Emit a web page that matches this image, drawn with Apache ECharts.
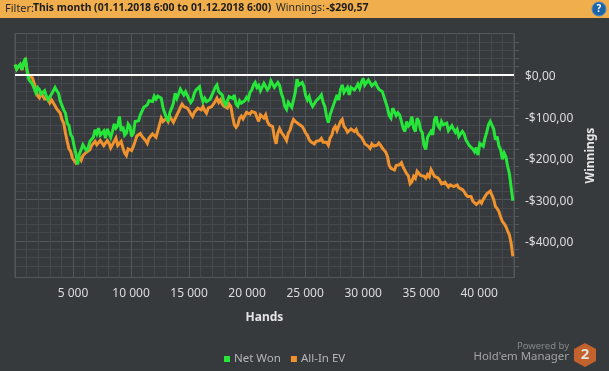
<!DOCTYPE html>
<html>
<head>
<meta charset="utf-8">
<style>
  html, body { margin: 0; padding: 0; background: #373a3d; }
  #chart { width: 609px; height: 371px; }
</style>
<script src="https://cdn.jsdelivr.net/npm/echarts@6/dist/echarts.min.js"></script>
</head>
<body>
<div id="chart"></div>
<script>
var hands = [
  0, 150, 300, 450, 600, 750, 900, 1050, 1200, 1350, 1500, 1650, 1800, 1950, 2100, 2250, 2400, 2550, 2700, 2850,
  3000, 3150, 3300, 3450, 3600, 3750, 3900, 4050, 4200, 4350, 4500, 4650, 4800, 4950, 5100, 5250, 5400, 5550, 5700, 5850,
  6000, 6150, 6300, 6450, 6600, 6750, 6900, 7050, 7200, 7350, 7500, 7650, 7800, 7950, 8100, 8250, 8400, 8550, 8700, 8850,
  9000, 9150, 9300, 9450, 9600, 9750, 9900, 10050, 10200, 10350, 10500, 10650, 10800, 10950, 11100, 11250, 11400, 11550, 11700, 11850,
  12000, 12150, 12300, 12450, 12600, 12750, 12900, 13050, 13200, 13350, 13500, 13650, 13800, 13950, 14100, 14250, 14400, 14550, 14700, 14850,
  15000, 15150, 15300, 15450, 15600, 15750, 15900, 16050, 16200, 16350, 16500, 16650, 16800, 16950, 17100, 17250, 17400, 17550, 17700, 17850,
  18000, 18150, 18300, 18450, 18600, 18750, 18900, 19050, 19200, 19350, 19500, 19650, 19800, 19950, 20100, 20250, 20400, 20550, 20700, 20850,
  21000, 21150, 21300, 21450, 21600, 21750, 21900, 22050, 22200, 22350, 22500, 22650, 22800, 22950, 23100, 23250, 23400, 23550, 23700, 23850,
  24000, 24150, 24300, 24450, 24600, 24750, 24900, 25050, 25200, 25350, 25500, 25650, 25800, 25950, 26100, 26250, 26400, 26550, 26700, 26850,
  27000, 27150, 27300, 27450, 27600, 27750, 27900, 28050, 28200, 28350, 28500, 28650, 28800, 28950, 29100, 29250, 29400, 29550, 29700, 29850,
  30000, 30150, 30300, 30450, 30600, 30750, 30900, 31050, 31200, 31350, 31500, 31650, 31800, 31950, 32100, 32250, 32400, 32550, 32700, 32850,
  33000, 33150, 33300, 33450, 33600, 33750, 33900, 34050, 34200, 34350, 34500, 34650, 34800, 34950, 35100, 35250, 35400, 35550, 35700, 35850,
  36000, 36150, 36300, 36450, 36600, 36750, 36900, 37050, 37200, 37350, 37500, 37650, 37800, 37950, 38100, 38250, 38400, 38550, 38700, 38850,
  39000, 39150, 39300, 39450, 39600, 39750, 39900, 40050, 40200, 40350, 40500, 40650, 40800, 40950, 41100, 41250, 41400, 41550, 41700, 41850,
  42000, 42150, 42300, 42450, 42600, 42750, 42900
];
var netWon = [
  25, 14, 21, 26, 13, 30, 41, 8, -11, -8, -22, -26, -43, -30, -35, -46, -43, -38, -51, -60,
  -59, -46, -43, -30, -38, -44, -63, -62, -84, -92, -116, -122, -144, -150, -172, -190, -216, -190, -180, -168,
  -170, -182, -176, -160, -156, -150, -132, -142, -128, -145, -148, -135, -152, -130, -132, -150, -136, -118, -128, -122,
  -100, -135, -124, -145, -140, -118, -124, -148, -140, -112, -110, -110, -96, -92, -78, -82, -72, -62, -60, -64,
  -51, -58, -51, -48, -56, -78, -92, -96, -112, -90, -80, -68, -44, -56, -46, -34, -35, -48, -40, -44,
  -59, -66, -60, -44, -36, -34, -28, -50, -64, -56, -64, -68, -59, -50, -48, -30, -24, -40, -44, -48,
  -64, -72, -68, -52, -48, -56, -48, -70, -75, -62, -68, -70, -62, -54, -59, -42, -36, -24, -18, -30,
  -25, -38, -36, -20, -22, -36, -30, -14, -10, -30, -27, -18, -25, -44, -56, -76, -83, -66, -64, -78,
  -80, -42, -10, -24, -28, -18, -28, -50, -60, -52, -68, -76, -78, -62, -60, -54, -48, -66, -76, -100,
  -115, -96, -92, -72, -60, -48, -60, -34, -24, -42, -36, -30, -48, -30, -27, -36, -30, -22, -32, -18,
  -8, -24, -28, -12, -14, -26, -22, -18, -27, -34, -30, -40, -44, -66, -80, -98, -104, -80, -84, -98,
  -91, -96, -112, -128, -136, -112, -123, -118, -100, -128, -136, -104, -112, -132, -139, -170, -179, -150, -152, -136,
  -144, -108, -100, -122, -128, -112, -120, -124, -116, -134, -131, -122, -131, -138, -131, -148, -152, -136, -142, -156,
  -152, -170, -168, -178, -185, -175, -193, -165, -168, -172, -152, -138, -120, -112, -108, -130, -156, -148, -171, -180,
  -203, -188, -197, -220, -237, -270, -303
];
var allInEv = [
  25, 14, 20, 25, 12, 28, 35, 8, -3, -2, -7, -20, -35, -50, -55, -44, -47, -58, -62, -58,
  -67, -60, -63, -74, -82, -84, -92, -108, -116, -140, -160, -178, -184, -200, -204, -212, -210, -200, -206, -194,
  -196, -186, -184, -180, -170, -168, -160, -168, -164, -158, -164, -170, -168, -158, -164, -176, -180, -160, -152, -170,
  -165, -160, -176, -188, -194, -178, -180, -182, -172, -160, -147, -150, -141, -148, -145, -158, -165, -152, -153, -142,
  -138, -150, -153, -120, -104, -112, -108, -104, -112, -100, -103, -114, -115, -96, -88, -78, -70, -76, -72, -80,
  -86, -94, -100, -90, -92, -80, -83, -84, -76, -86, -92, -80, -84, -76, -80, -64, -56, -66, -60, -70,
  -75, -74, -80, -70, -76, -100, -120, -126, -120, -104, -99, -106, -102, -90, -91, -94, -88, -84, -91, -102,
  -112, -96, -100, -104, -96, -112, -120, -118, -124, -150, -166, -140, -129, -138, -134, -150, -158, -140, -133, -118,
  -107, -112, -108, -118, -120, -124, -131, -140, -145, -156, -161, -158, -166, -160, -158, -158, -153, -162, -165, -162,
  -169, -152, -145, -130, -124, -134, -134, -112, -107, -124, -129, -138, -142, -130, -133, -136, -131, -142, -139, -150,
  -157, -166, -169, -172, -177, -166, -171, -174, -169, -164, -169, -176, -181, -186, -197, -218, -225, -224, -229, -218,
  -214, -216, -211, -222, -225, -238, -243, -262, -257, -244, -249, -232, -230, -242, -241, -244, -249, -240, -245, -228,
  -229, -244, -246, -248, -254, -262, -265, -258, -261, -270, -265, -262, -269, -266, -265, -272, -269, -276, -281, -288,
  -293, -290, -293, -304, -301, -312, -309, -304, -309, -300, -297, -286, -283, -280, -281, -300, -317, -322, -329, -342,
  -353, -358, -365, -376, -385, -405, -437
];
var winningsTicks = [100, 0, -100, -200, -300, -400];
var winningsLabels = [0, -100, -200, -300, -400];
var winningsMinorTicks = [
  80, 60, 40, 20, -20, -40, -60, -80, -120, -140, -160, -180, -220, -240, -260, -280,
  -320, -340, -360, -380, -420, -440, -460
];

function money(v) {
  return (v < 0 ? '-' : '') + '$' + Math.abs(v) + ',00';
}

var uiFont = '"Noto Sans", sans-serif';
var chart = echarts.init(document.getElementById('chart'));
chart.setOption({
  animation: false,
  backgroundColor: '#373a3d',
  grid: {
    show: true,
    left: 15,
    right: 95,
    top: 33.5,
    bottom: 93.5,
    borderColor: '#53565a',
    borderWidth: 1
  },
  legend: {
    data: ['Net Won', 'All-In EV'],
    left: 219,
    top: 348,
    itemWidth: 6,
    itemHeight: 6,
    itemGap: 10,
    icon: 'rect',
    textStyle: { color: '#b4b6b8', fontFamily: uiFont, fontSize: 11.5, padding: [0, 0, 0, -1] }
  },
  xAxis: {
    type: 'value',
    name: 'Hands',
    nameLocation: 'middle',
    nameGap: 34,
    nameTextStyle: { color: '#e4e4e4', fontFamily: uiFont, fontSize: 12, fontWeight: 'bold' },
    min: 0,
    max: 43000,
    interval: 5000,
    axisLine: { show: false },
    axisTick: { show: true, length: 5, lineStyle: { color: '#53565a' } },
    minorTick: { show: true, splitNumber: 5, length: 5, lineStyle: { color: '#53565a' } },
    splitLine: { show: true, lineStyle: { color: '#53565a', width: 1 } },
    minorSplitLine: { show: true, lineStyle: { color: '#45484c', width: 1 } },
    axisLabel: {
      color: '#dcdcdc',
      fontFamily: uiFont,
      fontSize: 12,
      margin: 10,
      showMinLabel: false,
      showMaxLabel: false,
      formatter: function (v) {
        return String(v).replace(/\B(?=(\d{3})+$)/g, ' ');
      }
    }
  },
  yAxis: [
    {
      type: 'value',
      position: 'right',
      name: 'Winnings',
      nameLocation: 'middle',
      nameRotate: 90,
      nameGap: 62,
      nameTextStyle: { color: '#e4e4e4', fontFamily: uiFont, fontSize: 12, fontWeight: 'bold' },
      min: -488,
      max: 100,
      axisLine: { show: false },
      axisTick: { show: true, length: 5, customValues: winningsTicks, lineStyle: { color: '#53565a' } },
      splitLine: { show: true, lineStyle: { color: '#53565a', width: 1 } },
      axisLabel: {
        color: '#dcdcdc',
        fontFamily: uiFont,
        fontSize: 12,
        margin: 11,
        verticalAlign: 'top',
        lineHeight: 4,
        customValues: winningsLabels,
        formatter: money
      }
    },
    {
      type: 'value',
      position: 'right',
      min: -488,
      max: 100,
      axisLine: { show: false },
      axisTick: { show: true, length: 5, customValues: winningsMinorTicks, lineStyle: { color: '#53565a' } },
      splitLine: { show: true, lineStyle: { color: '#45484c', width: 1 } },
      axisLabel: { show: false }
    }
  ],
  series: [
    {
      name: 'All-In EV',
      type: 'line',
      z: 3,
      showSymbol: false,
      color: '#f0922e',
      lineStyle: { width: 3, color: '#f0922e', join: 'miter', miterLimit: 3 },
      data: hands.map(function (h, i) { return [h, allInEv[i]]; })
    },
    {
      name: 'Net Won',
      type: 'line',
      z: 4,
      showSymbol: false,
      color: '#27e63a',
      lineStyle: { width: 3, color: '#27e63a', join: 'miter', miterLimit: 3 },
      data: hands.map(function (h, i) { return [h, netWon[i]]; }),
      markLine: {
        silent: true,
        symbol: 'none',
        label: { show: false },
        lineStyle: { color: '#ffffff', width: 2, type: 'solid' },
        data: [{ yAxis: 0 }]
      }
    }
  ],
  graphic: [
    { type: 'rect', left: 0, top: 0, z: 10, shape: { width: 609, height: 18 }, style: { fill: '#f0ae4c' } },
    { type: 'text', left: 5, top: 3, z: 11, style: { text: 'Filter:', fill: '#2a2a2a', font: '11px ' + uiFont } },
    { type: 'text', left: 33, top: 3, z: 11, style: { text: 'This month (01.11.2018 6:00 to 01.12.2018 6:00)', fill: '#1c1c1c', font: 'bold 10.4px ' + uiFont } },
    { type: 'text', left: 276, top: 3, z: 11, style: { text: 'Winnings:', fill: '#2a2a2a', font: '10.5px ' + uiFont } },
    { type: 'text', left: 326, top: 3, z: 11, style: { text: '-$290,57', fill: '#1c1c1c', font: 'bold 10.5px ' + uiFont } },
    { type: 'circle', z: 11, shape: { cx: 599, cy: 9, r: 7 }, style: { fill: '#1c62a6', stroke: '#4d8cc4', lineWidth: 1 } },
    { type: 'text', z: 12, x: 599, y: 9, style: { text: '?', fill: '#ffffff', font: 'bold 10px ' + uiFont, align: 'center', verticalAlign: 'middle' } },
    { type: 'text', z: 11, right: 40, top: 341, style: { text: 'Powered by', fill: '#85888b', font: '9.5px ' + uiFont } },
    { type: 'text', z: 11, right: 40, top: 351, style: { text: "Hold'em Manager", fill: '#a2a4a6', font: '11.4px ' + uiFont } },
    { type: 'polygon', z: 11, shape: { points: [[585, 343], [596, 349], [596, 361], [585, 367], [574, 361], [574, 349]] }, style: { fill: '#c4622d' } },
    { type: 'text', z: 12, x: 585, y: 355, style: { text: '2', fill: '#e6e2dc', font: 'bold 15px ' + uiFont, align: 'center', verticalAlign: 'middle' } }
  ]
});
</script>
</body>
</html>
